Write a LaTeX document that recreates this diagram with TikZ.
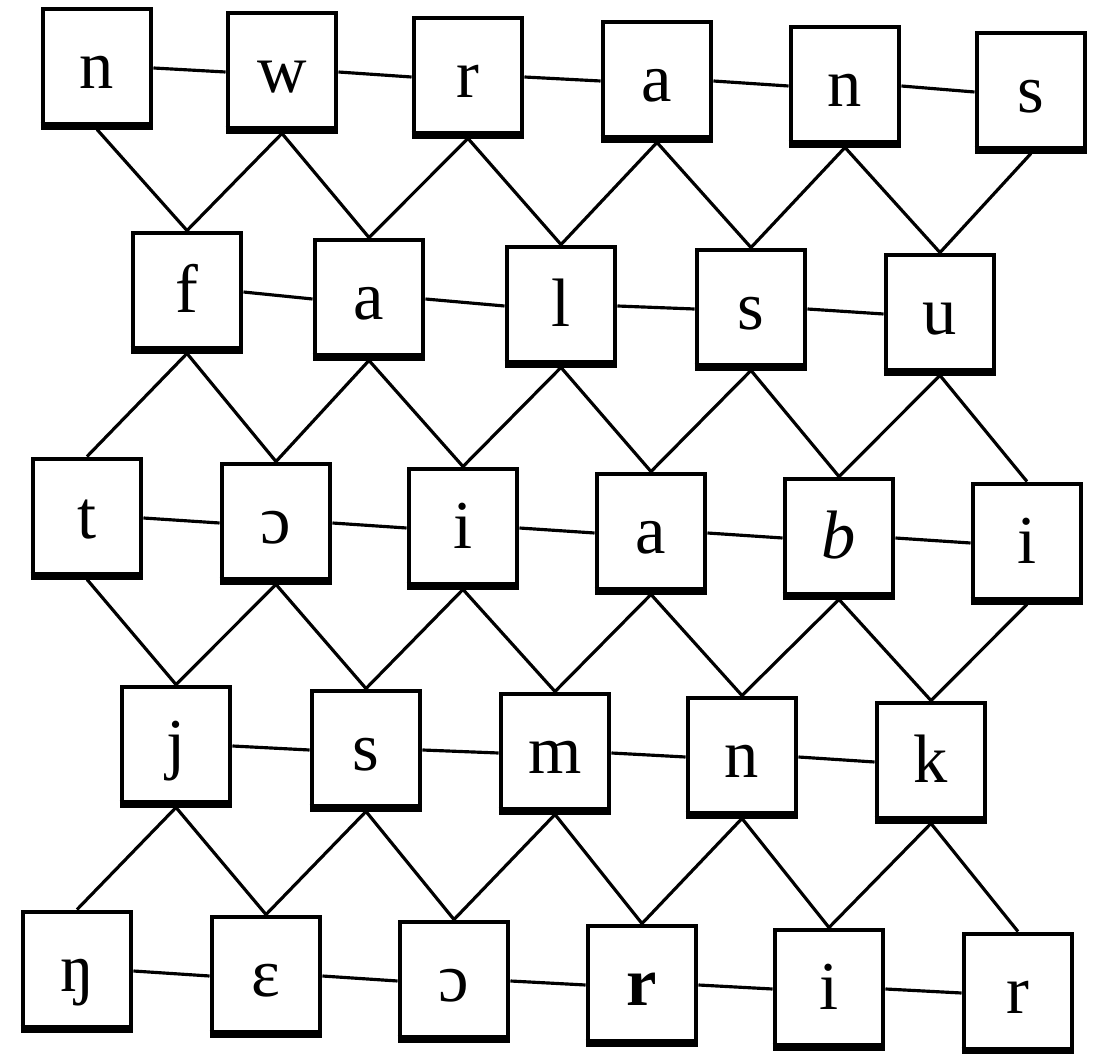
\documentclass[tikz,border=0pt]{standalone}
\usepackage{fontspec}
\setmainfont{Liberation Serif}
\begin{document}
\begin{tikzpicture}[x=0.02cm,y=-0.02cm,
  box/.style={draw, line width=2.8pt, minimum width=2.16cm, minimum height=2.36cm,
    inner sep=0pt, font=\fontsize{39}{41}\selectfont, text height=30pt, text depth=7pt},
  conn/.style={line width=1.8pt},
  boxbase/.style={line width=4.4pt}]
\useasboundingbox (0,0) rectangle (1107,1054);
% row 1
\node[box] (r1c1) at (97,68) {n};
\node[box] (r1c2) at (282,72) {w};
\node[box] (r1c3) at (468,77) {r};
\node[box] (r1c4) at (657,81) {a};
\node[box] (r1c5) at (845,86) {n};
\node[box] (r1c6) at (1031,92) {s};
% row 2
\node[box] (r2c1) at (187,292) {f};
\node[box] (r2c2) at (369,299) {a};
\node[box] (r2c3) at (561,306) {l};
\node[box] (r2c4) at (751,309) {s};
\node[box] (r2c5) at (940,314) {u};
% row 3
\node[box] (r3c1) at (87,518) {t};
\node[box] (r3c2) at (276,523) {ɔ};
\node[box] (r3c3) at (463,528) {i};
\node[box] (r3c4) at (651,533) {a};
\node[box] (r3c5) at (839,538) {\textit{b}};
\node[box] (r3c6) at (1027,543) {i};
% row 4
\node[box] (r4c1) at (176,746) {j};
\node[box] (r4c2) at (366,750) {s};
\node[box] (r4c3) at (555,753) {m};
\node[box] (r4c4) at (742,757) {n};
\node[box] (r4c5) at (931,762) {k};
% row 5
\node[box] (r5c1) at (77,971) {ŋ};
\node[box] (r5c2) at (266,976) {ɛ};
\node[box] (r5c3) at (454,981) {ɔ};
\node[box] (r5c4) at (642,985) {\textbf{r}};
\node[box] (r5c5) at (829,989) {i};
\node[box] (r5c6) at (1018,993) {r};
% thicker bottom edges
\foreach \n in {r1c1,r1c2,r1c3,r1c4,r1c5,r1c6,r2c1,r2c2,r2c3,r2c4,r2c5,
  r3c1,r3c2,r3c3,r3c4,r3c5,r3c6,r4c1,r4c2,r4c3,r4c4,r4c5,
  r5c1,r5c2,r5c3,r5c4,r5c5,r5c6}
  \draw[boxbase] ([yshift=1.8pt]\n.south west) -- ([yshift=1.8pt]\n.south east);
% horizontal connectors
\foreach \r in {1,3,5} {
  \foreach \i [evaluate=\i as \j using int(\i+1)] in {1,...,5}
    \draw[conn] (r\r c\i.east) -- (r\r c\j.west);
}
\foreach \r in {2,4} {
  \foreach \i [evaluate=\i as \j using int(\i+1)] in {1,...,4}
    \draw[conn] (r\r c\i.east) -- (r\r c\j.west);
}
% diagonals: 6-box row to 5-box row
\foreach \a/\b in {1/2,3/4} {
  \foreach \i in {1,...,5} {
    \pgfmathtruncatemacro{\k}{\i+1}
    \draw[conn] (r\a c\i.south) -- (r\b c\i.north);
    \draw[conn] (r\a c\k.south) -- (r\b c\i.north);
  }
}
% diagonals: 5-box row to 6-box row
\foreach \a/\b in {2/3,4/5} {
  \foreach \i in {1,...,5} {
    \pgfmathtruncatemacro{\k}{\i+1}
    \draw[conn] (r\a c\i.south) -- (r\b c\i.north);
    \draw[conn] (r\a c\i.south) -- (r\b c\k.north);
  }
}
\end{tikzpicture}
\end{document}
